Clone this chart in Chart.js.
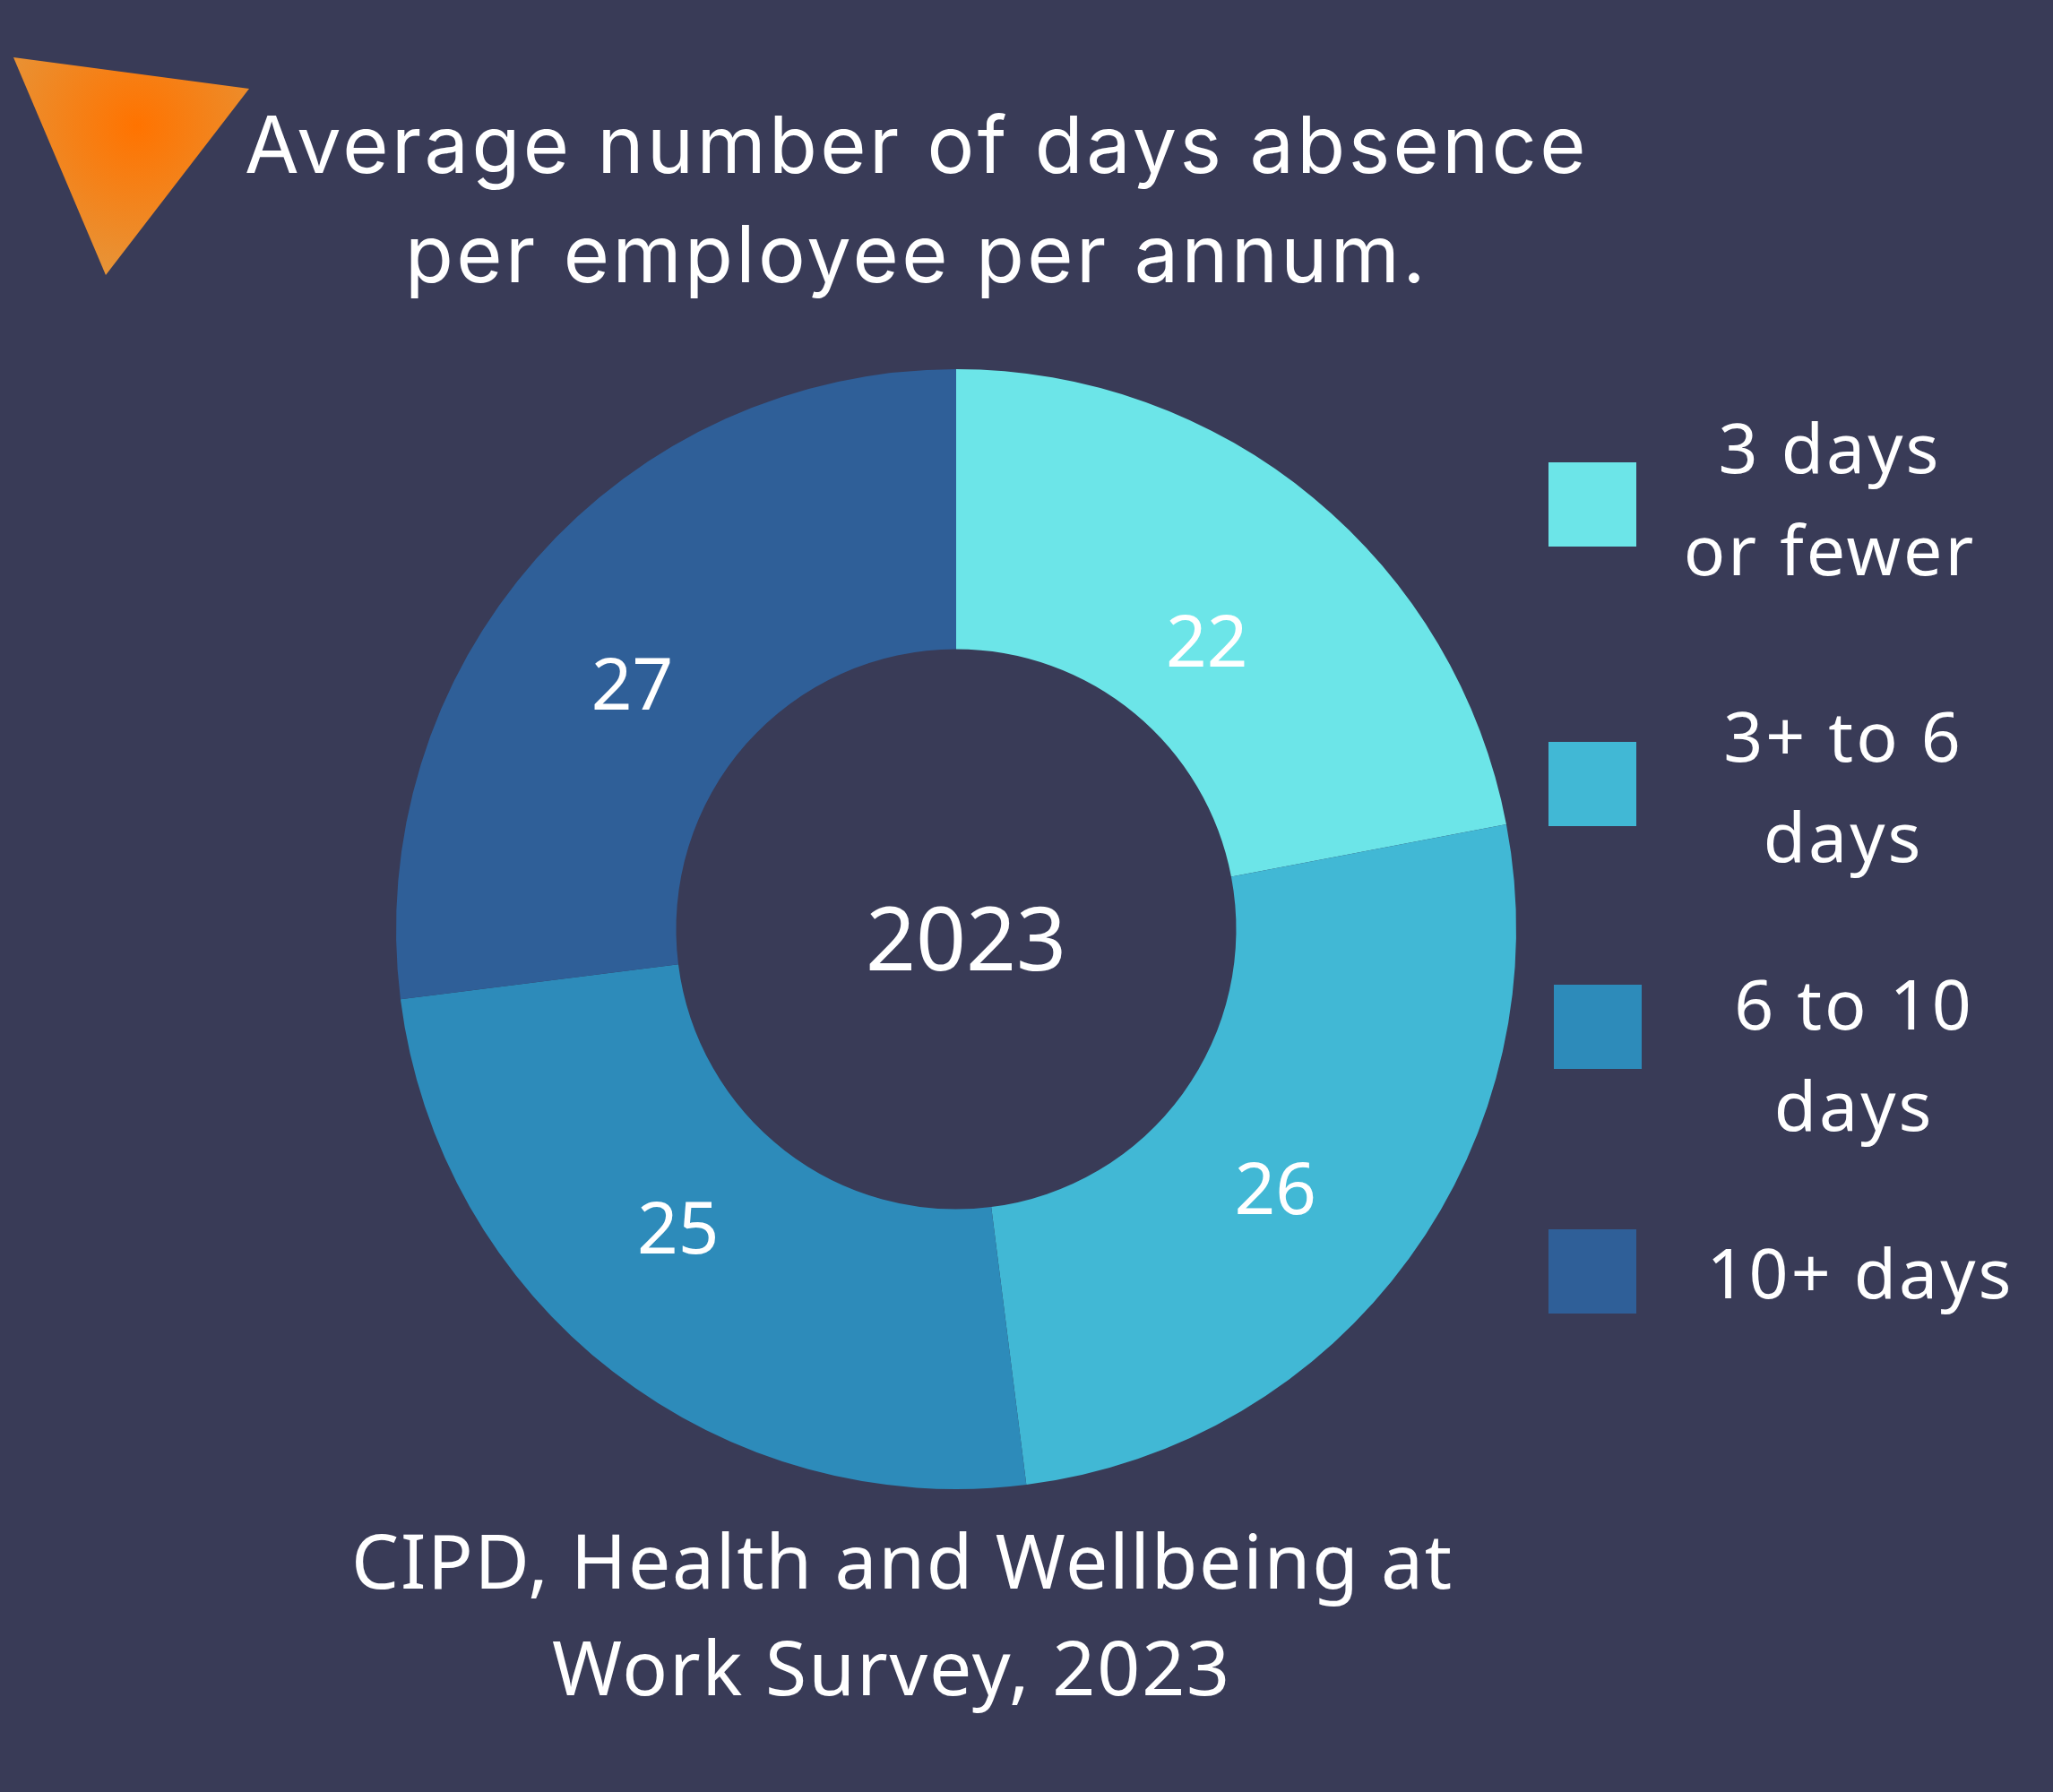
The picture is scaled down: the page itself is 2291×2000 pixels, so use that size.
<!DOCTYPE html>
<html>
<head>
<meta charset="utf-8">
<title>Average number of days absence</title>
<script src="https://cdn.jsdelivr.net/npm/chart.js@4"></script>
<style>
  html, body { margin: 0; padding: 0; background: #393b57; }
  #wrap { position: relative; width: 2291px; height: 2000px; overflow: hidden; }
  #chart { position: absolute; left: 0; top: 0; }
  #tri { position: absolute; left: 0; top: 0; }
</style>
</head>
<body>
<div id="wrap">
  <canvas id="chart" width="2291" height="2000"></canvas>
  <svg id="tri" width="300" height="330">
    <defs>
      <radialGradient id="triFill" gradientUnits="userSpaceOnUse" cx="153" cy="140" r="175">
        <stop offset="0" stop-color="#ff7300"/>
        <stop offset="1" stop-color="#e6953a"/>
      </radialGradient>
    </defs>
    <polygon points="15,64 278,99 118,307" fill="url(#triFill)"/>
  </svg>
</div>
<script>
'use strict';

/* ---- Data ---- */
const categories = ['3 days or fewer', '3+ to 6 days', '6 to 10 days', '10+ days'];
const values     = [22, 26, 25, 27];
const sliceColors = ['#6ce5e8', '#41b8d5', '#2d8bba', '#2f5f98'];

const titleLines  = ['Average number of days absence', 'per employee per annum.'];
const sourceLines = ['CIPD, Health and Wellbeing at', 'Work Survey, 2023'];
const centerLabel = '2023';
const legendLines = [['3 days', 'or fewer'], ['3+ to 6', 'days'], ['6 to 10', 'days'], ['10+ days']];

/* ---- Layout ---- */
const BODY_FONT  = '"Noto Sans", sans-serif';
const TITLE_FONT = 'Inter, sans-serif';
const CENTER = { x: 1067, y: 1037 };
const RADIUS = 625;

// nudges from each slice's centre point to where the number sits
const VALUE_SHIFT = [[-19, 41], [-23, 15], [-23, -35], [-10, 38]];
const SWATCHES = [[1728, 516], [1728, 828], [1734, 1099], [1728, 1372]];
const SWATCH_W = 98;
const SWATCH_H = 94;
const LEGEND_X = [2042, 2057, 2069, 2076];
const LEGEND_BASE = [[528, 642], [850, 962], [1149, 1262], [1449]];

function drawText(ctx, text, x, y, font, spacing) {
  ctx.font = font;
  ctx.letterSpacing = spacing || '0px';
  ctx.fillText(text, x, y);
}

/* Numbers on the slices, centre year, titles and the legend */
const overlayText = {
  id: 'overlayText',
  afterDraw(chart) {
    const ctx = chart.ctx;
    ctx.save();
    ctx.fillStyle = '#ffffff';
    ctx.textAlign = 'center';
    ctx.textBaseline = 'alphabetic';

    chart.getDatasetMeta(0).data.forEach((arc, i) => {
      const p = arc.getCenterPoint();
      drawText(ctx, String(values[i]), p.x + VALUE_SHIFT[i][0], p.y + VALUE_SHIFT[i][1] + 27, `80px ${BODY_FONT}`);
    });

    drawText(ctx, centerLabel, 1078, 1083, `98px ${BODY_FONT}`);

    drawText(ctx, titleLines[0], 1023, 193, `88px ${TITLE_FONT}`, '3.4px');
    drawText(ctx, titleLines[1], 1023, 315, `88px ${TITLE_FONT}`, '3.4px');
    drawText(ctx, sourceLines[0], 1007, 1773, `84px ${BODY_FONT}`, '1.7px');
    drawText(ctx, sourceLines[1], 995, 1892, `84px ${BODY_FONT}`, '1.9px');

    legendLines.forEach((lines, i) => {
      ctx.fillStyle = sliceColors[i];
      ctx.fillRect(SWATCHES[i][0], SWATCHES[i][1], SWATCH_W, SWATCH_H);
      ctx.fillStyle = '#ffffff';
      lines.forEach((line, j) => {
        drawText(ctx, line, LEGEND_X[i], LEGEND_BASE[i][j], `77px ${BODY_FONT}`, '3px');
      });
    });
    ctx.restore();
  },
};

new Chart(document.getElementById('chart'), {
  type: 'doughnut',
  data: {
    labels: categories,
    datasets: [{ data: values, backgroundColor: sliceColors, borderWidth: 0 }],
  },
  options: {
    responsive: false,
    devicePixelRatio: 1,
    animation: false,
    cutout: '50%',
    layout: {
      padding: {
        left: CENTER.x - RADIUS,
        right: 2291 - CENTER.x - RADIUS,
        top: CENTER.y - RADIUS,
        bottom: 2000 - CENTER.y - RADIUS,
      },
    },
    plugins: { legend: { display: false }, tooltip: { enabled: false } },
  },
  plugins: [overlayText],
});
</script>
</body>
</html>
